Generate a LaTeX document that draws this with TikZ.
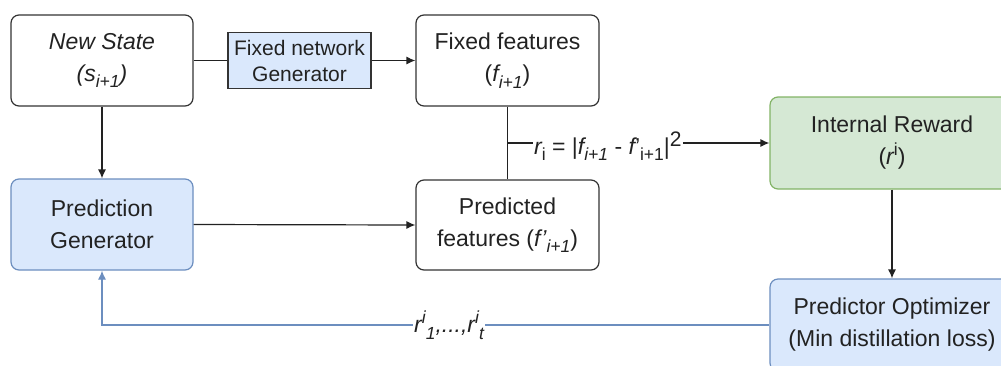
\documentclass[tikz,border=0pt]{standalone}
\usepackage{fontspec}
\setmainfont{Liberation Sans}
\usetikzlibrary{arrows.meta}
\definecolor{bluefill}{HTML}{DAE8FC}
\definecolor{bluestroke}{HTML}{6C8EBF}
\definecolor{greenfill}{HTML}{D5E8D4}
\definecolor{greenstroke}{HTML}{82B366}
\definecolor{ink}{HTML}{222222}
\definecolor{boxline}{HTML}{333333}
\newcommand{\mysb}[1]{\raisebox{-0.28em}{\fontsize{17.5}{18}\selectfont #1}}
\newcommand{\mysp}[1]{\raisebox{0.42em}{\fontsize{17.5}{18}\selectfont #1}}
\tikzset{
  box/.style={draw=boxline, line width=1.2pt, rounded corners=8pt, align=center,
    text=ink, inner sep=0pt, font=\fontsize{23}{32}\selectfont},
  bluebox/.style={box, draw=bluestroke, fill=bluefill},
  greenbox/.style={box, draw=greenstroke, fill=greenfill},
  genbox/.style={draw=boxline, line width=1.2pt, fill=bluefill, align=center,
    text=ink, inner sep=0pt, font=\fontsize{21}{26}\selectfont},
  conn/.style={draw=ink, line width=1.2pt},
  arr/.style={conn, -{Latex[length=9pt,width=8pt]}},
  fb/.style={draw=bluestroke, line width=1.2pt, -{Latex[length=9pt,width=8pt]}},
  lbl/.style={text=ink, inner sep=1pt, font=\fontsize{23}{26}\selectfont}
}
\begin{document}
\begin{tikzpicture}[x=1pt,y=-1pt]
\useasboundingbox (0,0) rectangle (1001,365);
\clip (0,0) rectangle (1001,365);
\node[box, minimum width=182pt, minimum height=91pt] (ns) at (102,60.5)
  {\itshape New State\\\itshape (s\mysb{i+1})};
\node[genbox, minimum width=143pt, minimum height=56pt] (fn) at (299.5,60.5)
  {Fixed network\\Generator};
\node[box, minimum width=183pt, minimum height=91pt] (ff) at (507.5,60.5)
  {Fixed features\\({\itshape f\mysb{i+1}})};
\node[box, minimum width=183pt, minimum height=90pt] (pf) at (507.5,225)
  {Predicted\\features ({\itshape f'\mysb{i+1}})};
\node[bluebox, minimum width=182pt, minimum height=91pt] (pg) at (102,224.5)
  {Prediction\\Generator};
\node[greenbox, minimum width=244pt, minimum height=92pt] (ir) at (892,143)
  {Internal Reward\\({\itshape r}\mysp{i})};
\node[bluebox, minimum width=244pt, minimum height=92pt] (po) at (892,325)
  {Predictor Optimizer\\(Min distillation loss)};

\draw[conn] (ns.east) -- (fn.west);
\draw[arr] (fn.east) -- (ff.west);
\draw[arr] (ns.south) -- (pg.north);
\draw[arr] (pg.east) -- (pf.west);
\draw[conn] (ff.south) -- (pf.north);
\coordinate (j) at (507.5,143);
\node[lbl, anchor=west] (rf) at (533,146)
  {{\itshape r}\mysb{i} = |{\itshape f\mysb{i+1}} - {\itshape f}'\mysb{i+1}|\raisebox{0.35em}{\fontsize{21}{21}\selectfont 2}};
\draw[conn] (j) -- (j -| rf.west);
\draw[arr] (rf.east |- j) -- (ir.west);
\draw[arr] (ir.south) -- (po.north);
\draw[fb] (po.west) -| (pg.south)
  node[lbl, fill=white, pos=0.24] (fl) {\itshape r\mysp{i}\mysb{1},...,r\mysp{i}\mysb{t}};
\end{tikzpicture}
\end{document}
